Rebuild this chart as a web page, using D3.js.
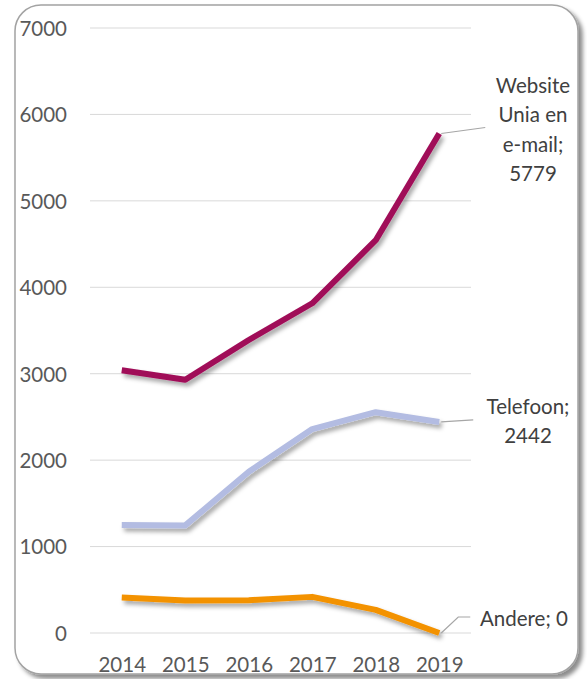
<!DOCTYPE html>
<html><head><meta charset="utf-8">
<script src="https://cdn.jsdelivr.net/npm/d3@7"></script>
<style>html,body{margin:0;padding:0;background:#fff;}svg{display:block;}</style>
</head><body>
<script>
const years = ["2014","2015","2016","2017","2018","2019"];
const website = [3040, 2930, 3390, 3815, 4545, 5779];
const telefoon = [1250, 1245, 1865, 2360, 2555, 2442];
const andere = [410, 375, 380, 418, 268, 0];
const yTicks = [0, 1000, 2000, 3000, 4000, 5000, 6000, 7000];
const seriesNames = ["Website Unia en e-mail", "Telefoon", "Andere"];

const W = 587, H = 679;
const svg = d3.select("body").append("svg").attr("width", W).attr("height", H);
const defs = svg.append("defs");
const f1 = defs.append("filter").attr("id","boxsh").attr("x","-5%").attr("y","-5%").attr("width","115%").attr("height","115%");
f1.append("feDropShadow").attr("dx",4).attr("dy",4).attr("stdDeviation",2).attr("flood-color","#000").attr("flood-opacity",0.45);
const f2 = defs.append("filter").attr("id","lsh").attr("x","-10%").attr("y","-20%").attr("width","130%").attr("height","150%");
f2.append("feDropShadow").attr("dx",2.5).attr("dy",3.5).attr("stdDeviation",2).attr("flood-color","#000").attr("flood-opacity",0.35);

svg.append("rect").attr("x",15).attr("y",5).attr("width",563).attr("height",669)
  .attr("rx",26).attr("ry",26).attr("fill","#fff").attr("stroke","#a3a3a3").attr("stroke-width",1.5)
  .attr("filter","url(#boxsh)");

const x = d3.scalePoint().domain(years).range([90,471]).padding(0.5);
const y = d3.scaleLinear().domain([0,7000]).range([633,28]);
const font = "Lato, 'Open Sans', sans-serif";

// gridlines
svg.append("g").selectAll("line").data(yTicks).join("line")
  .attr("x1",90).attr("x2",471).attr("y1",d=>y(d)).attr("y2",d=>y(d))
  .attr("stroke","#d9d9d9").attr("stroke-width",1);

// y axis labels
const yAxis = d3.axisLeft(y).tickValues(yTicks).tickSize(0).tickPadding(0).tickFormat(d3.format("d"));
const gy = svg.append("g").attr("transform","translate(67,0)").call(yAxis);
gy.select(".domain").remove();
gy.selectAll("text").attr("font-family",font).attr("font-size",20.5).attr("fill","#595959").attr("dy","0.36em");

const xAxis = d3.axisBottom(x).tickSize(0).tickPadding(0);
const gx = svg.append("g").attr("transform","translate(0,657)").call(xAxis);
gx.select(".domain").remove();
gx.selectAll("text").attr("font-family",font).attr("font-size",20.5).attr("fill","#595959").attr("dy","0.72em");

const line = d3.line().x((d,i)=>x(years[i])).y(d=>y(d));
const data = [
  {vals: andere, color:"#F39200"},
  {vals: telefoon, color:"#B3BCE2"},
  {vals: website, color:"#A00C58"}
];
svg.append("g").selectAll("path").data(data).join("path")
  .attr("d",d=>line(d.vals)).attr("fill","none").attr("stroke",d=>d.color)
  .attr("stroke-width",6).attr("stroke-linejoin","round").attr("stroke-linecap","butt")
  .attr("filter","url(#lsh)");

// labels
const lx = x("2019");
const lab = svg.append("g").attr("font-family",font).attr("font-size",20.5).attr("fill","#404040");
function leader(pts){
  svg.append("polyline").attr("points",pts.map(p=>p.join(",")).join(" "))
    .attr("fill","none").attr("stroke","#a6a6a6").attr("stroke-width",1.2);
}
leader([[lx+2,y(website[5])],[lx+46,y(website[5])-6]]);
["Website","Unia en","e-mail;", String(website[5])].forEach((t,i)=>{
  lab.append("text").attr("x",533).attr("y",93+i*29.3).attr("text-anchor","middle").text(t);
});
leader([[lx+2,y(telefoon[5])],[lx+34,y(telefoon[5])-2]]);
["Telefoon;", String(telefoon[5])].forEach((t,i)=>{
  lab.append("text").attr("x",528).attr("y",414+i*29.3).attr("text-anchor","middle").text(t);
});
leader([[lx+2,y(andere[5])],[lx+19,y(andere[5])-16],[lx+31,y(andere[5])-16]]);
lab.append("text").attr("x",480).attr("y",626).text("Andere; " + andere[5]);
</script>
</body></html>
